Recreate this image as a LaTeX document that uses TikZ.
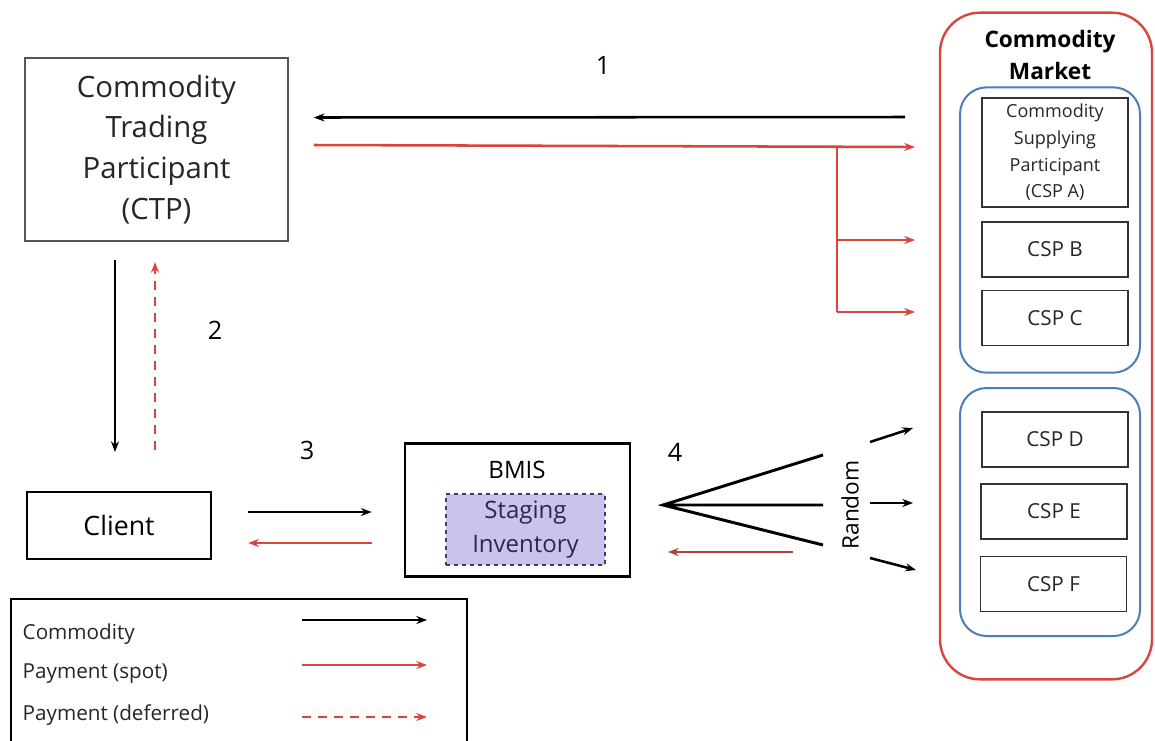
\documentclass[tikz,border=0pt]{standalone}
\usepackage{fontspec}
\setmainfont{Open Sans}
\usetikzlibrary{arrows.meta,calc}
\definecolor{rd}{HTML}{D9453C}
\definecolor{drd}{HTML}{B8403A}
\definecolor{bl}{HTML}{4F7CB8}
\definecolor{lav}{HTML}{CBC3EC}
\definecolor{nav}{HTML}{3C3C66}
\definecolor{gry}{HTML}{555555}
\tikzset{
  box/.style={draw=#1, line width=1.8pt, inner sep=0pt},
  box/.default=black,
  comm/.style={black, line width=1.9pt, -{Stealth[length=8pt,width=6pt]}},
  spot/.style={rd, line width=1.9pt, -{Stealth[length=8pt,width=6pt]}},
  defer/.style={rd, line width=1.9pt, dash pattern=on 7pt off 5pt, -{Stealth[length=8pt,width=6pt]}},
  lbl/.style={font=\fontsize{19}{22}\selectfont},
}
\begin{document}
\begin{tikzpicture}[x=0.75pt,y=-0.75pt]
\useasboundingbox (0,0) rectangle (1155,740);
\fill[white] (0,0) rectangle (1155,740);
% CTP
\node[box=gry, line width=1.4pt, minimum width=197pt, minimum height=137pt, align=center,
  font=\fontsize{22}{30.5}\selectfont, text=black!85] (ctp) at (156.5,149.5)
  {Commodity\\Trading\\Participant\\(CTP)};
% Client
\node[box, minimum width=138pt, minimum height=50pt, font=\fontsize{20}{22}\selectfont] (client) at (119,525.5) {Client};
% BMIS
\node[box, minimum width=169pt, minimum height=100pt] (bmis) at (517.5,510) {};
\node[font=\fontsize{18}{20}\selectfont] (bmislbl) at (517,470) {BMIS};
\node[draw=nav, dashed, line width=1.1pt, fill=lav, minimum width=119pt, minimum height=53pt, align=center,
  font=\fontsize{18}{26}\selectfont, text=nav!70!black] (stag) at (525.5,529.5) {Staging\\Inventory};
% Commodity Market
\node[draw=rd, line width=1.8pt, rounded corners=30pt, minimum width=159pt, minimum height=500pt] (mkt) at (1046,346) {};
\node[font=\bfseries\fontsize{17}{24}\selectfont, align=center] (mktlbl) at (1050,55) {Commodity\\Market};
\node[draw=bl, line width=1.5pt, rounded corners=20pt, minimum width=135pt, minimum height=214pt] (g1) at (1050,230) {};
\node[draw=bl, line width=1.5pt, rounded corners=20pt, minimum width=135pt, minimum height=186pt] (g2) at (1050,512) {};
\tikzset{csp/.style={draw=black!80, line width=1.1pt, minimum width=109.5pt, minimum height=41pt, font=\fontsize{15.5}{18}\selectfont, text=black!85}}
\node[csp, minimum height=82pt, align=center, font=\fontsize{13.5}{20}\selectfont] (cspa) at (1055,152.5)
  {Commodity\\Supplying\\Participant\\(CSP A)};
\node[csp] (cspb) at (1055,249.5) {CSP B};
\node[csp] (cspc) at (1055,318) {CSP C};
\node[csp] (cspd) at (1055,439.5) {CSP D};
\node[csp] (cspe) at (1054,511.5) {CSP E};
\node[csp] (cspf) at (1053.5,584) {CSP F};
% numbers
\node[lbl] (n1) at (603,65) {1};
\node[lbl] (n2) at (215,330) {2};
\node[lbl] (n3) at (307,450) {3};
\node[lbl] (n4) at (675,452) {4};
% arrows 1
\coordinate (a1s) at (905,117);
\coordinate (a1e) at ($(ctp.east)+(25,-32)$);
\draw[comm] (a1s) -- (a1e);
\coordinate (r1s) at ($(ctp.east)+(25,-4.5)$);
\coordinate (r1e) at (915,147);
\coordinate (br) at (837,146);
\draw[spot] (r1s) -- (r1e);
\coordinate (r2e) at (915,240);
\coordinate (r3e) at (915,312);
\draw[rd, line width=1.9pt] (br) -- (837,312);
\draw[spot] (837,240) -- (r2e);
\draw[spot] (837,312) -- (r3e);
% arrows 2
\coordinate (c2s) at (115,260);
\coordinate (c2e) at (115,452);
\draw[comm] (c2s) -- (c2e);
\coordinate (d2s) at (155,450);
\coordinate (d2e) at (155,262);
\draw[defer] (d2s) -- (d2e);
% arrows 3
\draw[comm] ($(client.east)+(36,-13.5)$) -- ($(bmis.west)+(-32,2)$);
\draw[spot] ($(bmis.west)+(-32,33)$) -- ($(client.east)+(36,17.5)$);
% arrows 4
\coordinate (fan) at (663,505);
\coordinate (f1) at (823,455);
\coordinate (f2) at (823,505);
\coordinate (f3) at (823,545);
\draw[black, line width=2.2pt, line join=miter] (f1) -- (fan) -- (f3) (fan) -- (f2);
\node[rotate=90, font=\fontsize{17}{20}\selectfont] (rnd) at (850,505) {Random};
\draw[comm] (870,442) -- (913,428);
\draw[comm] (870,503) -- (913,503);
\draw[comm] (870,558) -- (916,570);
\draw[drd, line width=1.9pt, -{Stealth[length=8pt,width=6pt]}] (793,552) -- (668,552);
% legend
\node[box, line width=1.8pt, minimum width=342pt, minimum height=130pt, anchor=north west] (leg) at (10,598) {};
\tikzset{legt/.style={anchor=west, font=\fontsize{15.5}{18}\selectfont, text=black!85}}
\node[legt] (l1) at (18,634) {Commodity};
\node[legt] (l2) at (18,674) {Payment (spot)};
\node[legt] (l3) at (18,715) {Payment (deferred)};
\draw[comm] (302,620) -- (427,620);
\draw[spot] (302,665) -- (427,665);
\draw[defer] (302,717) -- (427,717);
\end{tikzpicture}
\end{document}
